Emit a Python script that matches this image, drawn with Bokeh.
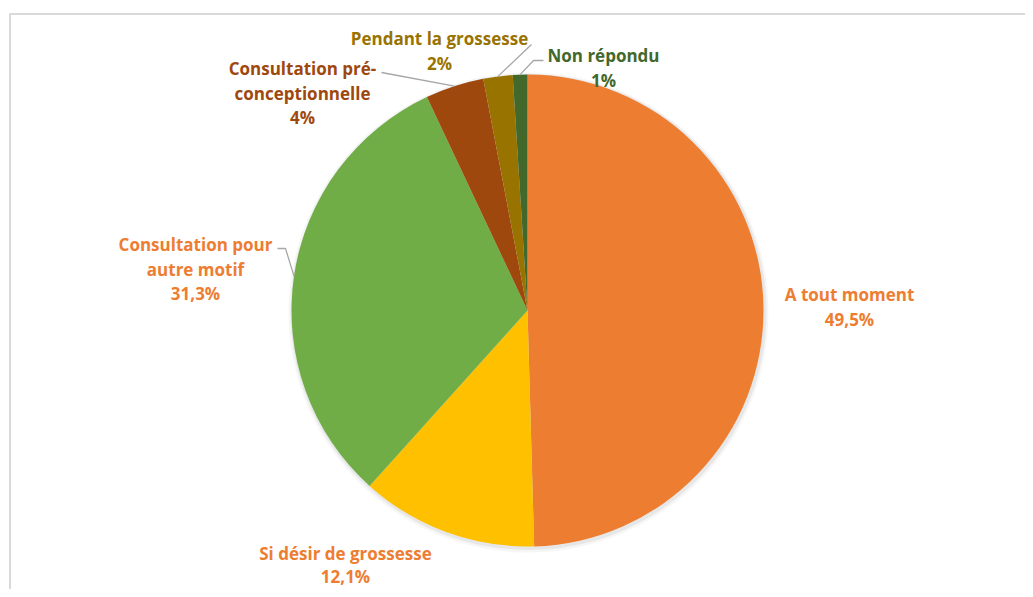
import math
from bokeh.plotting import figure
from bokeh.models import Range1d
from bokeh.core.properties import value
from bokeh.embed import file_html
from bokeh.resources import INLINE

# ---- data ----
categories = ["A tout moment", "Si désir de grossesse", "Consultation pour autre motif",
              "Consultation pré-conceptionnelle", "Pendant la grossesse", "Non répondu"]
values = [49.5, 12.1, 31.3, 4, 2, 1]
pct_labels = ["49,5%", "12,1%", "31,3%", "4%", "2%", "1%"]
label_lines = [["A tout moment"], ["Si désir de grossesse"], ["Consultation pour", "autre motif"],
               ["Consultation pré-", "conceptionnelle"], ["Pendant la grossesse"], ["Non répondu"]]
slice_colors = ["#ED7D31", "#FFC000", "#70AD47", "#9E480E", "#997300", "#43682B"]
text_colors = ["#ED7D31", "#ED7D31", "#ED7D31", "#9E480E", "#997300", "#43682B"]

# ---- layout (x = screen x, y = H - screen y) ----
W, H = 1025, 589
def Y(sy):
    return H - sy

cx, cy, R = 527, Y(310), 236
# label block centres (x, y of first line), line spacing
label_pos = [(849, 294), (345, 553), (195, 244), (302, 68), (439, 38), (603, 55)]
label_ls = [24.5, 23, 24.5, 24.5, 24.5, 24.5]
# leader line label-side anchors (polyline points before the pie edge), None = no leader
leader_pts = [None, None, [(277, 248), (285, 248)], [(381, 72)], [(531, 44)], [(543, 60), (533, 60)]]

p = figure(width=W, height=H, output_backend="svg", toolbar_location=None,
           x_range=Range1d(0, W), y_range=Range1d(0, H),
           min_border=0, min_border_left=0, min_border_right=0,
           min_border_top=0, min_border_bottom=0)
p.axis.visible = False
p.grid.visible = False
p.outline_line_color = None
p.background_fill_color = "white"
p.border_fill_color = "white"

# chart border (top and left visible; others beyond the window)
p.quad(left=9.5, right=1100, top=Y(13.5), bottom=-50, fill_color=None,
       line_color="#d9d9d9", line_width=2)

# soft shadow
p.circle(x=[cx + 1], y=[cy - 2], radius=R + 4, fill_color="#000000", fill_alpha=0.035, line_color=None)
p.circle(x=[cx + 1], y=[cy - 1.5], radius=R + 2, fill_color="#000000", fill_alpha=0.06, line_color=None)

total = sum(values)
cum = 0.0
starts, ends, mids = [], [], []
for v in values:
    a0 = math.pi / 2 - 2 * math.pi * cum / total
    cum += v
    a1 = math.pi / 2 - 2 * math.pi * cum / total
    starts.append(a0)
    ends.append(a1)
    mids.append((a0 + a1) / 2)

p.wedge(x=[cx] * len(values), y=[cy] * len(values), radius=R,
        start_angle=starts, end_angle=ends, direction="clock",
        fill_color=slice_colors, line_color=None)

# leader lines
for i, pts in enumerate(leader_pts):
    if pts is None:
        continue
    ex = cx + R * math.cos(mids[i])
    ey = cy + R * math.sin(mids[i])
    xs = [q[0] for q in pts] + [ex]
    ys = [Y(q[1]) for q in pts] + [ey]
    p.line(xs, ys, line_color="#a6a6a6", line_width=1.3)

# labels
for i, lines in enumerate(label_lines):
    lx, ly = label_pos[i]
    all_lines = lines + [pct_labels[i]]
    for k, t in enumerate(all_lines):
        p.text(x=[lx], y=[Y(ly + k * label_ls[i])], text=[t],
               text_font=value("Open Sans"), text_font_style="bold",
               text_font_size="17px", text_color=text_colors[i],
               text_align="center", text_baseline="middle")

open("out.html", "w").write(file_html(p, INLINE))
